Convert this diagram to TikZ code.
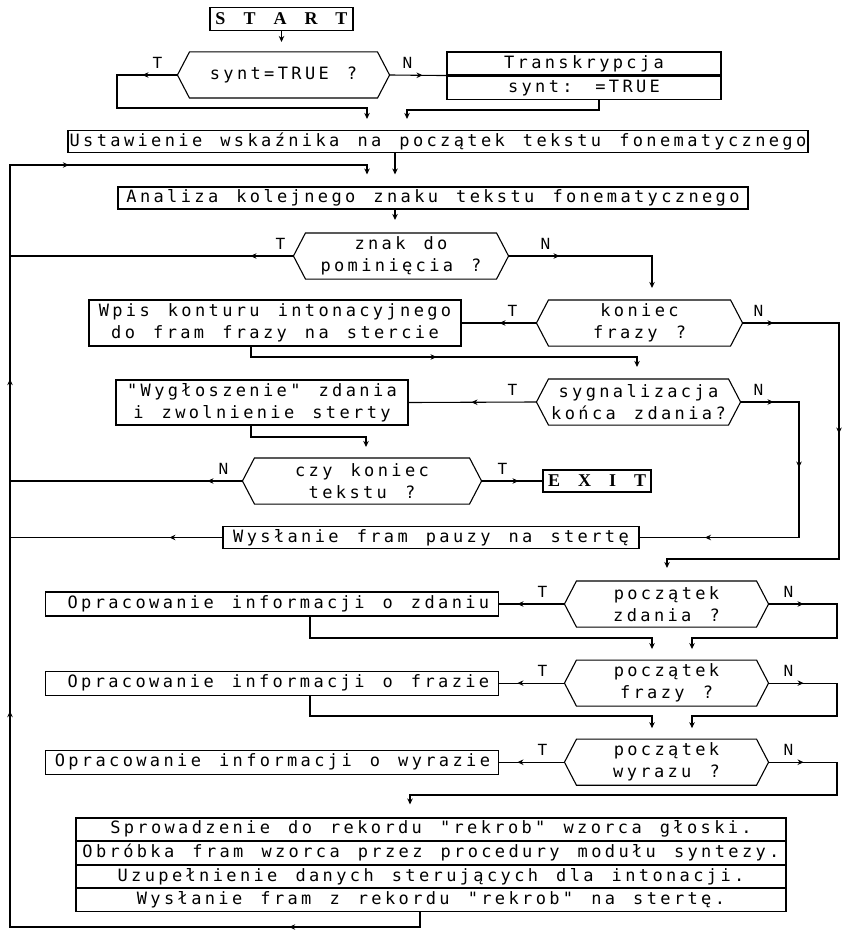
\documentclass[tikz,border=0pt]{standalone}
\usepackage{fontspec}
\usetikzlibrary{positioning,arrows.meta,decorations.markings}
\newfontfamily\plotfont[LetterSpace=19.8,WordSpace=1.33]{DejaVu Sans Mono}
\newfontfamily\labfont{Liberation Mono}
\newfontfamily\headfont[WordSpace=4]{Liberation Serif}

\begin{document}
\begin{tikzpicture}[x=1pt,y=-1pt,line width=1.1pt,
  every node/.style={font=\plotfont\fontsize{17}{22}\selectfont,align=center,inner sep=0pt},
  box/.style={draw,minimum height=22pt},
  opr/.style={box,minimum width=453pt,minimum height=24pt},
  decision/.style={minimum height=45pt},
  term/.style={draw,minimum height=23pt,font=\headfont\fontsize{18}{20}\selectfont\bfseries},
  lbl/.style={font=\labfont\fontsize{17}{20}\selectfont},
  to box/.style={-{Stealth[length=6pt,width=5.5pt]},shorten >=#1},
  tipat/.style={postaction={decorate,decoration={markings,
      mark=at position #1 with {\arrow{Stealth[length=6pt,width=5.5pt]}}}}}]

\useasboundingbox (0,0) rectangle (846,933);

% nodes
\node[term,minimum width=143pt] (start) at (281.5,19) {S T A R T};
\node[decision,minimum width=211pt] (synt) at (283.5,75) {synt=TRUE ?};
\node[box,minimum width=274pt,minimum height=23pt] (trans) at (584,63.5) {Transkrypcja};
\node[box,minimum width=274pt,minimum height=23pt,below=0pt of trans] (assign) {synt: =TRUE};
\node[box,minimum width=740pt] (ustaw) at (438,141.5) {Ustawienie wskaźnika na początek tekstu fonematycznego};
\node[box,minimum width=630pt] (analiza) at (433,198) {Analiza kolejnego znaku tekstu fonematycznego};
\node[decision,minimum width=214pt] (pomin) at (401,256) {znak do\\pominięcia ?};
\node[box,minimum width=372pt,minimum height=46pt] (wpis) at (275,323) {Wpis konturu intonacyjnego\\do fram frazy na stercie};
\node[decision,minimum width=205pt] (koniecfr) at (639.5,323) {koniec\\frazy ?};
\node[box,minimum width=292pt,minimum height=45pt] (wygl) at (262,402.5) {"Wygłoszenie" zdania\\i zwolnienie sterty};
\node[decision,minimum width=203pt] (sygn) at (638.5,402) {sygnalizacja\\końca zdania?};
\node[decision,minimum width=238pt] (koniectx) at (362,481) {czy koniec\\tekstu ?};
\node[term,minimum width=108pt,minimum height=22pt] (exit) at (597,481) {E X I T};
\node[box,minimum width=416pt] (pauza) at (431,537.5) {Wysłanie fram pauzy na stertę};
\node[decision,minimum width=203pt] (pzd) at (666.5,604) {początek\\zdania ?};
\node[decision,minimum width=203pt,below=33pt of pzd] (pfr) {początek\\frazy ?};
\node[decision,minimum width=203pt,below=33pt of pfr] (pwy) {początek\\wyrazu ?};
\node[opr,left=65pt of pzd] (ozd) {\hspace{12pt}Opracowanie informacji o zdaniu};
\node[opr,left=65pt of pfr] (ofr) {\hspace{12pt}Opracowanie informacji o frazie};
\node[opr,left=65pt of pwy] (owy) {Opracowanie informacji o wyrazie};
\node[box,minimum width=710pt,minimum height=22.5pt] (rek1) at (431,829.25) {Sprowadzenie do rekordu "rekrob" wzorca głoski.};
\node[box,minimum width=710pt,minimum height=22.5pt,below=0pt of rek1] (rek2) {Obróbka fram wzorca przez procedury modułu syntezy.};
\node[box,minimum width=710pt,minimum height=22.5pt,below=0pt of rek2] (rek3) {Uzupełnienie danych sterujących dla intonacji.};
\node[box,minimum width=710pt,minimum height=22.5pt,below=0pt of rek3] (rek4) {Wysłanie fram z rekordu "rekrob" na stertę.};

% hexagons
\foreach \d in {synt,pomin,koniecfr,sygn,koniectx,pzd,pfr,pwy}
  \draw (\d.west) -- ([xshift=12pt]\d.north west) -- ([xshift=-12pt]\d.north east)
    -- (\d.east) -- ([xshift=-12pt]\d.south east) -- ([xshift=12pt]\d.south west) -- cycle;

% T / N
\node[lbl] at ([shift={(-20,-12)}]synt.west) {T};
\node[lbl] at ([shift={(18,-12)}]synt.east) {N};
\node[lbl] at ([shift={(-13,-12)}]pomin.west) {T};
\node[lbl] at ([shift={(37,-12)}]pomin.east) {N};
\node[lbl] at ([shift={(-24,-12)}]koniecfr.west) {T};
\node[lbl] at ([shift={(16,-12)}]koniecfr.east) {N};
\node[lbl] at ([shift={(-24,-12)}]sygn.west) {T};
\node[lbl] at ([shift={(18,-12)}]sygn.east) {N};
\node[lbl] at ([shift={(-19,-12)}]koniectx.west) {N};
\node[lbl] at ([shift={(21,-12)}]koniectx.east) {T};
\foreach \d in {pzd,pfr,pwy} {
  \node[lbl] at ([shift={(-22,-12)}]\d.west) {T};
  \node[lbl] at ([shift={(20,-12)}]\d.east) {N};
}

% connectors
\draw[to box=10pt] (start.south) -- (start.south |- synt.north);
\draw[to box=11pt,tipat=35pt] (synt.west) -- (117,75) |- (367,108) -- (367,0 |- ustaw.north);
\draw[tipat=33pt] (synt.east) -- (assign.north west);
\draw[to box=11pt] (599,0 |- assign.south) |- (407,110) -- (407,0 |- ustaw.north);
\draw[to box=12pt] (395,0 |- ustaw.south) -- (395,0 |- analiza.north);
\draw[to box=12pt,tipat=146pt,tipat=641pt,tipat=973pt,tipat=1246pt]
  (420,0 |- rek4.south) |- (10,927) |- (367,165) -- (367,0 |- analiza.north);
\draw[to box=13pt] (395,0 |- analiza.south) -- (395,0 |- pomin.north);
\draw[tipat=43pt] (pomin.west) -- (10,0 |- pomin.west);
\draw[to box=12pt,tipat=51pt] (pomin.east) -| (652,0 |- koniecfr.north);
\draw[tipat=37pt] (koniecfr.west) -- (wpis.east);
\draw[to box=13pt,tipat=31pt,tipat=207pt] (koniecfr.east) -| (839,559) -| (667,0 |- pzd.north);
\draw[to box=12pt,tipat=196pt] (251,0 |- wpis.south) |- (637,357) -- (637,0 |- sygn.north);
\draw[tipat=65pt] (sygn.west) -- (wygl.east);
\draw[tipat=33pt,tipat=124pt,tipat=288pt] (sygn.east) -| (799,0 |- pauza.east) -- (pauza.east);
\draw[to box=11pt] (251,0 |- wygl.south) |- (366,437) -- (366,0 |- koniectx.north);
\draw[tipat=35pt] (koniectx.west) -- (10,0 |- koniectx.west);
\draw[tipat=37pt] (koniectx.east) -- (exit.west);
\draw[tipat=53pt] (pauza.west) -- (10,0 |- pauza.west);
\draw[tipat=47pt] (pzd.west) -- (ozd.east);
\draw[to box=11pt,tipat=35pt] (pzd.east) -| (837,638) -| (692,0 |- pfr.north);
\draw[to box=11pt] (310,0 |- ozd.south) |- (652,638) -- (652,0 |- pfr.north);
\draw[tipat=47pt] (pfr.west) -- (ofr.east);
\draw[to box=11pt,tipat=35pt] (pfr.east) -| (837,716) -| (692,0 |- pwy.north);
\draw[to box=11pt] (310,0 |- ofr.south) |- (652,716) -- (652,0 |- pwy.north);
\draw[tipat=47pt] (pwy.west) -- (owy.east);
\draw[to box=13pt,tipat=35pt] (pwy.east) -| (837,795) -| (410,0 |- rek1.north);
\end{tikzpicture}
\end{document}
